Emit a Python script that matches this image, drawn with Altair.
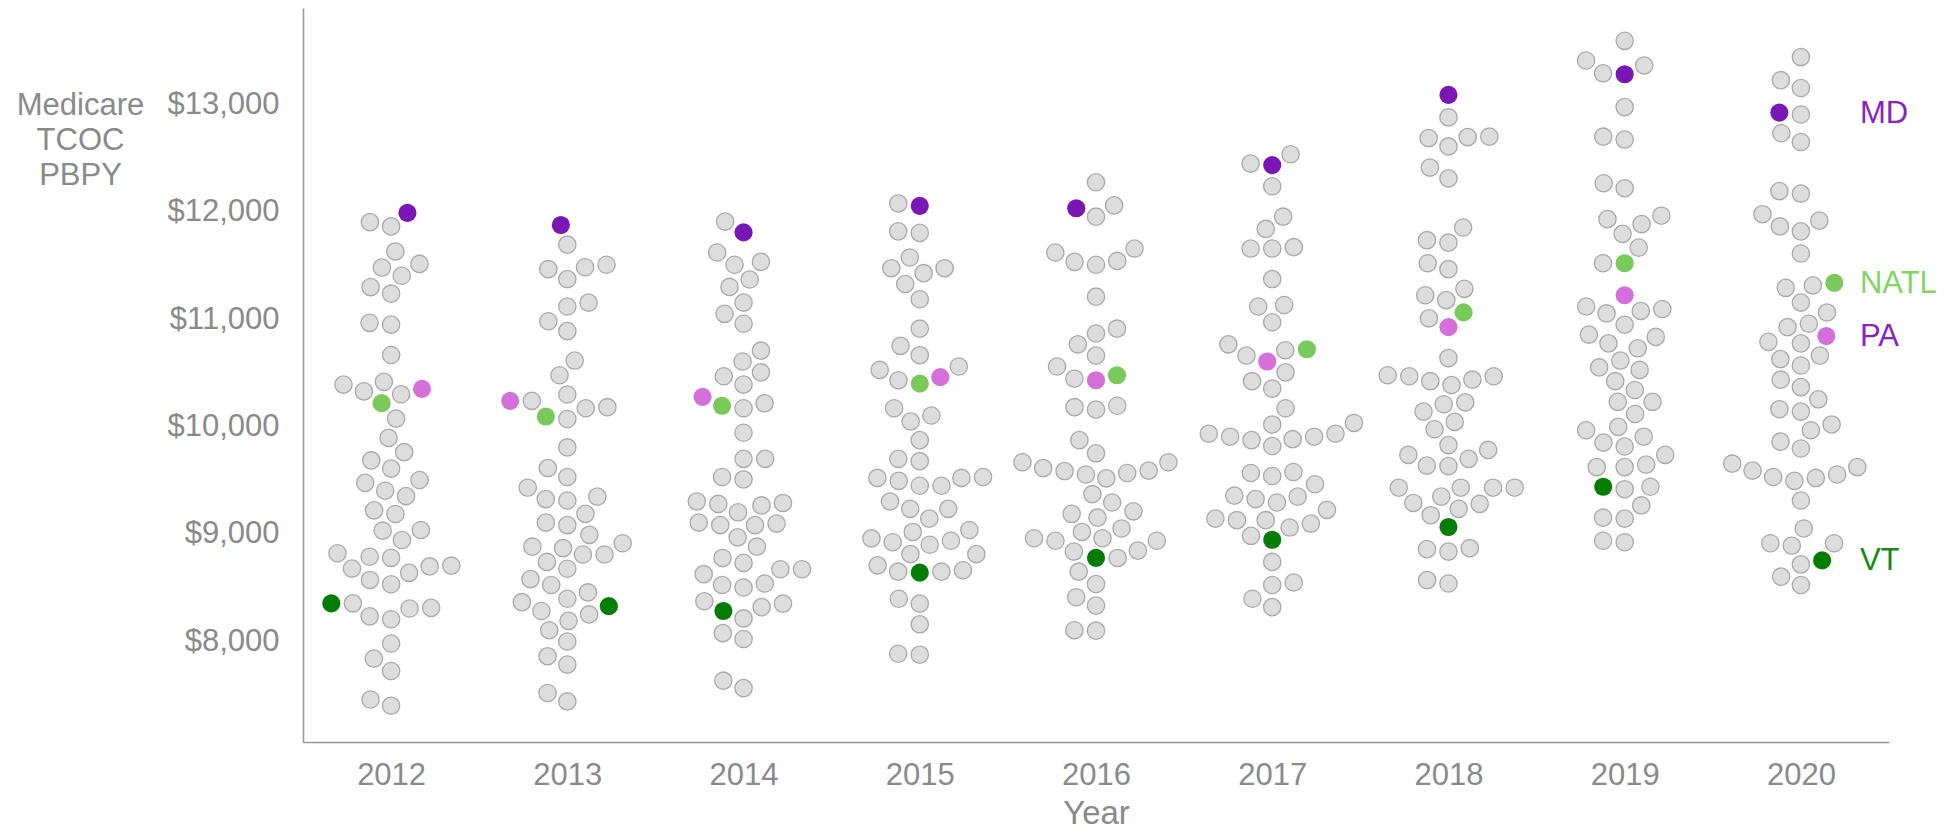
import altair as alt
import numpy as np
import pandas as pd

# ---------------- data ----------------
years = [2012, 2013, 2014, 2015, 2016, 2017, 2018, 2019, 2020]

md_values = [11990, 11877, 11809, 12056, 12033, 12435, 13089, 13281, 12924]
pa_values = [10351, 10240, 10277, 10460, 10432, 10606, 10926, 11223, 10844]
natl_values = [10218, 10094, 10194, 10400, 10478, 10720, 11063, 11521, 11338]
vt_values = [8354, 8328, 8283, 8640, 8777, 8946, 9065, 9440, 8754]

other_2012 = [11904, 11864, 11631, 11515, 11481, 11405, 11299, 11238, 10966, 10950,
              10667, 10417, 10301, 10328, 10391, 10075, 9895, 9685, 9762, 9609,
              9476, 9403, 9353, 9503, 9220, 9186, 9037, 9031, 8944, 8821,
              8778, 8705, 8698, 8572, 8532, 8638, 8678, 8788, 8354, 8233,
              8206, 8306, 8312, 7980, 7840, 7724, 7459, 7401]
other_2013 = [11694, 11466, 11374, 11484, 11507, 11118, 11155, 10981, 10889, 10615,
              10478, 10299, 10240, 10071, 10171, 10181, 9806, 9614, 9531, 9431,
              9325, 9312, 9348, 9188, 9106, 9083, 8992, 8868, 8882, 8809,
              8809, 8914, 8740, 8676, 8580, 8525, 8456, 8397, 8283, 8191,
              8251, 8365, 8104, 7999, 7862, 7784, 7519, 7441]
other_2014 = [11909, 11534, 11507, 11621, 11301, 11370, 11155, 11050, 10958, 10707,
              10606, 10505, 10469, 10391, 10171, 10217, 9943, 9700, 9700, 9531,
              9508, 9266, 9280, 9202, 9289, 9303, 9097, 9083, 9083, 9106,
              8969, 8882, 8731, 8777, 8672, 8672, 8539, 8502, 8525, 8626,
              8351, 8214, 8319, 8374, 8077, 8022, 7634, 7565]
other_2015 = [12078, 11818, 11804, 11575, 11475, 11429, 11475, 11328, 11186, 10912,
              10665, 10752, 10528, 10432, 10560, 10103, 10048, 10171, 9874, 9678,
              9700, 9522, 9495, 9449, 9449, 9522, 9531, 9234, 9143, 9234,
              9303, 9037, 8959, 8923, 8900, 8937, 9019, 8813, 8662, 8649,
              8649, 8708, 8813, 8351, 8397, 8159, 7885, 7876]
other_2016 = [12275, 11955, 12060, 11621, 11534, 11507, 11543, 11658, 11210, 10912,
              10867, 10766, 10661, 10560, 10446, 10181, 10158, 10194, 9874, 9751,
              9668, 9614, 9586, 9518, 9554, 9568, 9590, 9668, 9371, 9293,
              9188, 9152, 9211, 8937, 8937, 8960, 8960, 9019, 9051, 8836,
              8777, 8845, 8649, 8534, 8411, 8333, 8104, 8100]
other_2017 = [12536, 12449, 12238, 11955, 11841, 11658, 11658, 11671, 11374, 11118,
              11132, 10972, 10766, 10661, 10711, 10505, 10423, 10354, 10171, 10034,
              9934, 9906, 9874, 9819, 9883, 9906, 9934, 10020, 9577, 9540,
              9568, 9463, 9348, 9293, 9325, 9357, 9225, 9129, 9060, 9143,
              9097, 9129, 8983, 8740, 8525, 8548, 8397, 8319]
other_2018 = [12879, 12687, 12609, 12696, 12700, 12412, 12312, 11854, 11736, 11713,
              11521, 11466, 11223, 11178, 11283, 11008, 10638, 10469, 10437, 10423,
              10387, 10469, 10478, 10226, 10208, 10140, 10044, 9975, 9828, 9737,
              9637, 9632, 9700, 9783, 9431, 9289, 9175, 9348, 9431, 9234,
              9280, 9431, 9431, 8859, 8836, 8868, 8571, 8539]
other_2019 = [13592, 13409, 13290, 13363, 12975, 12700, 12673, 12266, 12220, 11932,
              11795, 11886, 11964, 11667, 11521, 11095, 11077, 10949, 11054, 11118,
              10857, 10835, 10729, 10775, 10615, 10551, 10423, 10528, 10231, 10117,
              10231, 10341, 9906, 9851, 9815, 9966, 9998, 9646, 9623, 9623,
              9737, 9440, 9417, 9266, 9152, 9143, 8937, 8923]
other_2020 = [13441, 13226, 13153, 12906, 12732, 12650, 12193, 12170, 11918, 11818,
              11864, 11978, 11612, 11292, 11315, 11155, 11063, 10958, 10926, 10775,
              10789, 10629, 10569, 10661, 10368, 10437, 10254, 10140, 10162, 10020,
              9966, 9796, 9860, 9623, 9554, 9495, 9522, 9531, 9590, 9655,
              9312, 9051, 8914, 8914, 8891, 8717, 8603, 8525]

others = [other_2012, other_2013, other_2014, other_2015, other_2016,
          other_2017, other_2018, other_2019, other_2020]

highlight_names = ["MD", "PA", "NATL", "VT"]
highlight_series = [md_values, pa_values, natl_values, vt_values]
point_colors = ["#7a16b3", "#d56fd9", "#79c95b", "#047d04"]
label_colors = ["#8a1fc2", "#8a1fc2", "#82d465", "#16891a"]

# ---------------- layout ----------------
W, H = 1586, 734
Y_MIN, Y_MAX = 7063, 13898
X_MIN, X_MAX = 2011.5, 2020.5
R = 10.3  # swarm point radius in px
px_per_year = W / (X_MAX - X_MIN)
px_per_value = H / (Y_MAX - Y_MIN)


def swarm_offsets(values):
    """Seaborn-style beeswarm: pixel x-offsets so circles do not overlap."""
    ys = np.asarray(values, dtype=float) * px_per_value
    order = np.argsort(ys)
    placed = []
    offsets = np.zeros(len(ys))
    for idx in order:
        y = ys[idx]
        neigh = []
        for xj, yj in reversed(placed):
            if y - yj < 2 * R:
                neigh.append((xj, yj))
            else:
                break
        cands = [0.0]
        left_first = True
        for xj, yj in neigh:
            dy = y - yj
            dx = np.sqrt(max((2 * R) ** 2 - dy ** 2, 0.0)) * 1.05
            pair = [xj - dx, xj + dx] if left_first else [xj + dx, xj - dx]
            cands.extend(pair)
            left_first = not left_first
        cands = np.array(cands)
        cands = cands[np.argsort(np.abs(cands))]
        chosen = cands[0]
        for c in cands:
            if all((c - xj) ** 2 + (y - yj) ** 2 >= (2 * R) ** 2 for xj, yj in neigh):
                chosen = c
                break
        placed.append((chosen, y))
        offsets[idx] = chosen
    return offsets


rows = []
for i, yr in enumerate(years):
    vals = list(others[i])
    groups = ["other"] * len(vals)
    for name, series in zip(highlight_names, highlight_series):
        vals.append(series[i])
        groups.append(name)
    offs = swarm_offsets(vals)
    for v, g, o in zip(vals, groups, offs):
        rows.append({"year": yr, "value": v, "group": g, "xpos": yr + o / px_per_year})
df = pd.DataFrame(rows)

label_df = pd.DataFrame({
    "year": [years[-1]] * 4,
    "value": [s[-1] for s in highlight_series],
    "group": highlight_names,
})

GREY = "#8a8a8a"
FONT = "Liberation Sans"

x_scale = alt.Scale(domain=[X_MIN, X_MAX], nice=False, zero=False)
y_scale = alt.Scale(domain=[Y_MIN, Y_MAX], nice=False, zero=False)

x_axis = alt.Axis(values=years, format="d", title="Year", grid=False, ticks=False, tickSize=0,
                  labelFontSize=31, labelPadding=18, labelColor=GREY, labelFont=FONT,
                  titleFontSize=33, titleColor=GREY, titleFont=FONT, titleFontWeight="normal",
                  titleBaseline="alphabetic", titleY=81,
                  domainColor="#9a9a9a", domainWidth=1.6)
y_axis = alt.Axis(values=[8000, 9000, 10000, 11000, 12000, 13000], format="$,.0f",
                  title=["Medicare", "TCOC", "PBPY"], grid=False, ticks=False, tickSize=0,
                  labelFontSize=31, labelPadding=24, labelColor=GREY, labelFont=FONT,
                  titleFontSize=31, titleColor=GREY, titleFont=FONT, titleFontWeight="normal",
                  titleAngle=0, titleAlign="center", titleBaseline="top",
                  titleX=-223, titleY=82, titleLineHeight=35,
                  domainColor="#9a9a9a", domainWidth=1.6)

base = alt.Chart(df)

grey_pts = base.transform_filter(alt.datum.group == "other").mark_circle(
    size=300, fill="#dddddd", stroke="#a9a9a9", strokeWidth=1.3, opacity=1
).encode(
    x=alt.X("xpos:Q", scale=x_scale, axis=x_axis),
    y=alt.Y("value:Q", scale=y_scale, axis=y_axis),
)

hl_pts = base.transform_filter(alt.datum.group != "other").mark_circle(
    size=330, opacity=1
).encode(
    x=alt.X("xpos:Q", scale=x_scale, axis=x_axis),
    y=alt.Y("value:Q", scale=y_scale, axis=y_axis),
    color=alt.Color("group:N", scale=alt.Scale(domain=highlight_names, range=point_colors), legend=None),
)

labels = alt.Chart(label_df).mark_text(
    align="left", baseline="middle", dx=59, dy=1, fontSize=31, font=FONT
).encode(
    x=alt.X("year:Q", scale=x_scale, axis=x_axis),
    y=alt.Y("value:Q", scale=y_scale, axis=y_axis),
    text="group:N",
    color=alt.Color("group:N", scale=alt.Scale(domain=highlight_names, range=label_colors), legend=None),
)

chart = alt.layer(grey_pts, hl_pts, labels).resolve_scale(color="independent").properties(
    width=W, height=H,
    background="white",
    autosize=alt.AutoSizeParams(type="none"),
    padding={"left": 295, "top": 0, "right": 50, "bottom": 88},
).configure_view(stroke="transparent", strokeWidth=0)

chart.save("out.html", embed_options={"renderer": "svg", "actions": False})
